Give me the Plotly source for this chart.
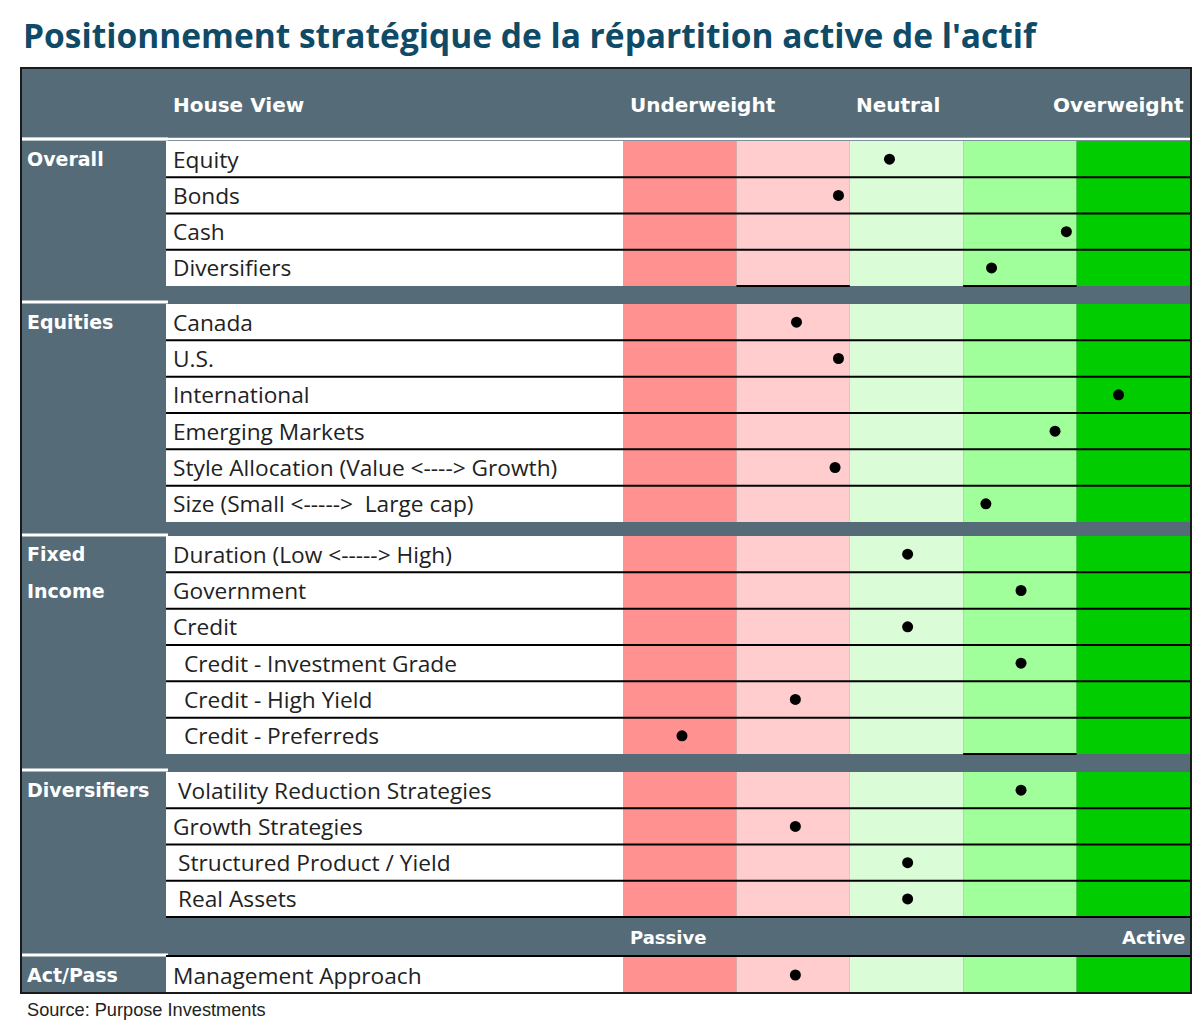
import plotly.graph_objects as go

# ---------------- data ----------------
TITLE = "Positionnement stratégique de la répartition active de l'actif"
SOURCE = "Source: Purpose Investments"
HEADER_LEFT = "House View"
SCALE_LABELS = ["Underweight", "Neutral", "Overweight"]
ACTPASS_LABELS = ["Passive", "Active"]

group_names = ["Overall", "Equities", "Fixed<br>Income", "Diversifiers", "Act/Pass"]

overall_items = ["Equity", "Bonds", "Cash", "Diversifiers"]
overall_vals = [2.35, 1.90, 3.91, 3.25]

equities_items = ["Canada", "U.S.", "International", "Emerging Markets",
                  "Style Allocation (Value <----> Growth)",
                  "Size (Small <----->  Large cap)"]
equities_vals = [1.53, 1.90, 4.37, 3.81, 1.87, 3.20]

fixed_items = ["Duration (Low <-----> High)", "Government", "Credit",
               "Credit - Investment Grade", "Credit - High Yield", "Credit - Preferreds"]
fixed_vals = [2.51, 3.51, 2.51, 3.51, 1.52, 0.52]

divers_items = ["Volatility Reduction Strategies", "Growth Strategies",
                "Structured Product / Yield", "Real Assets"]
divers_vals = [3.51, 1.52, 2.51, 2.51]

actpass_items = ["Management Approach"]
actpass_vals = [1.52]

group_items = [overall_items, equities_items, fixed_items, divers_items, actpass_items]
group_vals = [overall_vals, equities_vals, fixed_vals, divers_vals, actpass_vals]

# ---------------- layout / style ----------------
W, H = 1197, 1028
COL0, COLW = 623.0, 113.4          # pixel of value 0 and width of one scale step
NCOL = 5
col_colors = ["#FF9191", "#FFCDCD", "#DAFDD7", "#A0FF9B", "#00CC00"]
SLATE = "#556C78"
TITLE_C = "#0F4A66"

T_L, T_R, T_T, T_B = 21, 1191, 68, 993
LAB_X = 166
HDR_B = 139
group_tops = [141, 304, 536, 772, 957]
row_h = [36.25, 36.33, 36.33, 36.25, 36.0]
group_cell_tops = [139, 302, 535, 770, 955]
indents = [[0, 0, 0, 0], [0, 0, 0, 0, 0, 0], [0, 0, 0, 11, 11, 11], [5, 0, 5, 5], [0]]
# black segments under last row of each group, in column indices (-1 = label area)
end_lines = [[1, 3], [], [3], [-1, 0, 1, 2, 3, 4], []]
PASSIVE_ROW = (917, 955)

FONT_ROW = "Open Sans"
ROW_SIZE = 22.7
FONT_HDR = "DejaVu Sans"
GRP_SIZE = 19
HDR_SIZE = 20


def xd(px):
    return (px - COL0) / COLW


shapes = []


def rect(x0, x1, y0, y1, color):
    shapes.append(dict(type="rect", xref="x", yref="y", x0=xd(x0), x1=xd(x1), y0=y0, y1=y1,
                       fillcolor=color, line=dict(width=0), layer="below"))


def hline(x0, x1, y, color="black", w=2):
    shapes.append(dict(type="line", xref="x", yref="y", x0=xd(x0), x1=xd(x1), y0=y, y1=y,
                       line=dict(color=color, width=w), layer="below"))


# table background
rect(T_L, T_R, T_T, T_B, SLATE)
hline(T_L, T_R, HDR_B, "white", 2.5)

annotations = []

dot_x, dot_y = [], []
for g, name in enumerate(group_names):
    items = group_items[g]
    vals = group_vals[g]
    top = group_tops[g]
    rh = row_h[g]
    n = len(items)
    bottom = top + n * rh
    rect(LAB_X, COL0, top, bottom, "white")
    for c in range(NCOL):
        shapes.append(dict(type="rect", xref="x", yref="y", x0=c, x1=c + 1, y0=top, y1=bottom,
                           fillcolor=col_colors[c], line=dict(width=0), layer="below"))
    for k in range(1, n):
        hline(LAB_X, T_R - 1, top + k * rh)
    for c in end_lines[g]:
        if c == -1:
            hline(LAB_X, COL0, bottom)
        else:
            shapes.append(dict(type="line", xref="x", yref="y", x0=c, x1=c + 1, y0=bottom, y1=bottom,
                               line=dict(color="black", width=2), layer="below"))
    hline(T_L, LAB_X + 2, group_cell_tops[g], "white", 3)
    lines = name.split("<br>")
    for li, t in enumerate(lines):
        annotations.append(dict(xref="x", yref="y", x=xd(25), y=top + rh / 2 + li * rh,
                                text="<b>" + t + "</b>", showarrow=False, xanchor="left",
                                yanchor="middle", font=dict(family=FONT_HDR, size=GRP_SIZE, color="white")))
    for k, item in enumerate(items):
        yc = top + k * rh + rh / 2
        annotations.append(dict(xref="x", yref="y", x=xd(171 + indents[g][k]), y=yc,
                                text=item, showarrow=False, xanchor="left", yanchor="middle",
                                font=dict(family=FONT_ROW, size=ROW_SIZE, color="#222222")))
        dot_x.append(vals[k])
        dot_y.append(yc)

hline(LAB_X, T_R - 1, PASSIVE_ROW[0])
hline(LAB_X, T_R - 1, PASSIVE_ROW[1] + 1)

shapes.append(dict(type="rect", xref="x", yref="y", x0=xd(T_L), x1=xd(T_R), y0=T_T, y1=T_B,
                   line=dict(color="#1a1a1a", width=2), fillcolor="rgba(0,0,0,0)", layer="below"))

hdr_font = dict(family=FONT_HDR, size=HDR_SIZE, color="white")
annotations.append(dict(xref="x", yref="y", x=xd(171), y=105, text="<b>" + HEADER_LEFT + "</b>",
                        showarrow=False, xanchor="left", yanchor="middle", font=hdr_font))
annotations.append(dict(xref="x", yref="y", x=xd(628), y=105, text="<b>" + SCALE_LABELS[0] + "</b>",
                        showarrow=False, xanchor="left", yanchor="middle", font=hdr_font))
annotations.append(dict(xref="x", yref="y", x=xd(854), y=105, text="<b>" + SCALE_LABELS[1] + "</b>",
                        showarrow=False, xanchor="left", yanchor="middle", font=hdr_font))
annotations.append(dict(xref="x", yref="y", x=xd(1186), y=105, text="<b>" + SCALE_LABELS[2] + "</b>",
                        showarrow=False, xanchor="right", yanchor="middle", font=hdr_font))
pa_font = dict(family=FONT_HDR, size=18, color="white")
annotations.append(dict(xref="x", yref="y", x=xd(628), y=937, text="<b>" + ACTPASS_LABELS[0] + "</b>",
                        showarrow=False, xanchor="left", yanchor="middle", font=pa_font))
annotations.append(dict(xref="x", yref="y", x=xd(1187), y=937, text="<b>" + ACTPASS_LABELS[1] + "</b>",
                        showarrow=False, xanchor="right", yanchor="middle", font=pa_font))

annotations.append(dict(xref="x", yref="y", x=xd(21), y=35, text="<b>" + TITLE + "</b>",
                        showarrow=False, xanchor="left", yanchor="middle",
                        font=dict(family="Open Sans", size=33.5, color=TITLE_C)))
annotations.append(dict(xref="x", yref="y", x=xd(25), y=1010, text=SOURCE,
                        showarrow=False, xanchor="left", yanchor="middle",
                        font=dict(family="Liberation Sans", size=18.2, color="#222222")))

fig = go.Figure()
fig.add_trace(go.Scatter(x=dot_x, y=dot_y, mode="markers",
                         marker=dict(color="black", size=11, symbol="circle"),
                         hoverinfo="skip", showlegend=False))

fig.update_layout(
    width=W, height=H, margin=dict(l=0, r=0, t=0, b=0),
    paper_bgcolor="white", plot_bgcolor="white",
    xaxis=dict(range=[xd(0), xd(W)], visible=False, fixedrange=True),
    yaxis=dict(range=[H, 0], visible=False, fixedrange=True),
    shapes=shapes, annotations=annotations, showlegend=False,
)

fig.write_html("out.html", config={"displayModeBar": False},
               post_script="document.body.style.margin='0';document.body.style.overflow='hidden';")
